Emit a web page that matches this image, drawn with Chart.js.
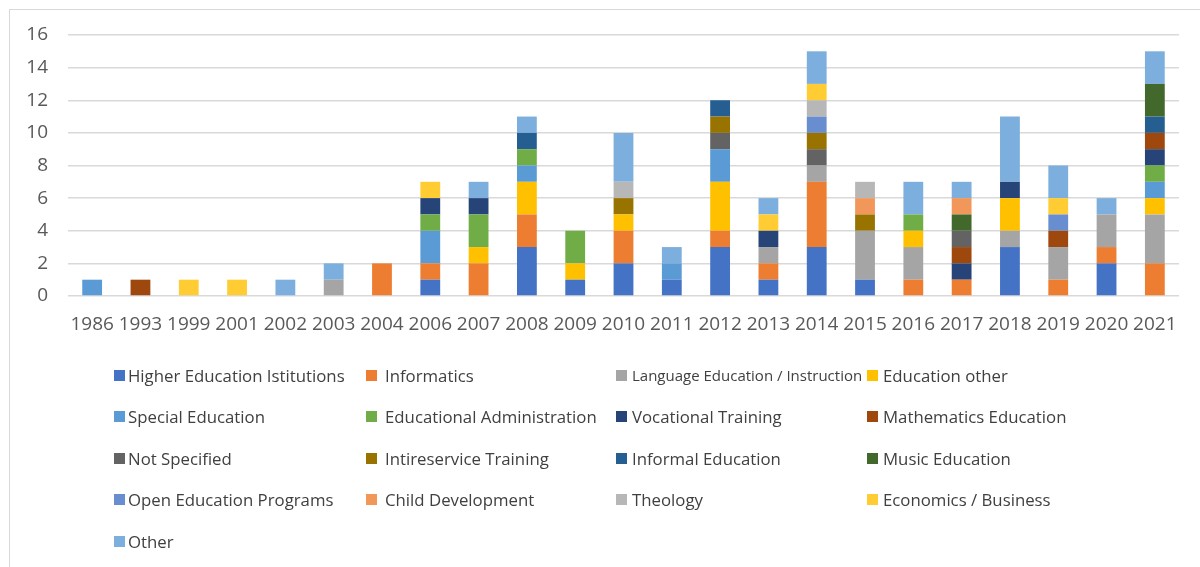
<!DOCTYPE html>
<html>
<head>
<meta charset="utf-8">
<script src="https://cdn.jsdelivr.net/npm/chart.js@4/dist/chart.umd.min.js"></script>
<style>
  html, body { margin: 0; padding: 0; background: #fff; }
  #wrap { position: relative; width: 1200px; height: 567px; overflow: hidden; font-family: "Open Sans", sans-serif; }
  #frame { position: absolute; left: 9px; top: 9px; width: 1300px; height: 700px; border-left: 1px solid #d9d9d9; border-top: 1px solid #d9d9d9; box-sizing: border-box; pointer-events: none; }
  #c { position: absolute; left: 0; top: 0; }
  #legend { position: absolute; left: 0; top: 0; width: 1200px; height: 567px; pointer-events: none; }
  .li { position: absolute; display: flex; align-items: center; font-size: 16.8px; color: #404040; white-space: nowrap; }
  .li span.sw { display: inline-block; width: 11px; height: 11px; }
</style>
</head>
<body>
<div id="wrap">
  <canvas id="c" width="1200" height="567"></canvas>
  <div id="frame"></div>
  <div id="legend"></div>
</div>
<script>
const years = ["1986","1993","1999","2001","2002","2003","2004","2006","2007","2008","2009","2010","2011","2012","2013","2014","2015","2016","2017","2018","2019","2020","2021"];
const yTicks = [0, 2, 4, 6, 8, 10, 12, 14, 16];

const higherEducation  = [0,0,0,0,0,0,0,1,0,3,1,2,1,3,1,3,1,0,0,3,0,2,0];
const informatics      = [0,0,0,0,0,0,2,1,2,2,0,2,0,1,1,4,0,1,1,0,1,1,2];
const languageEd       = [0,0,0,0,0,1,0,0,0,0,0,0,0,0,1,1,3,2,0,1,2,2,3];
const educationOther   = [0,0,0,0,0,0,0,0,1,2,1,1,0,3,0,0,0,1,0,2,0,0,1];
const specialEd        = [1,0,0,0,0,0,0,2,0,1,0,0,1,2,0,0,0,0,0,0,0,0,1];
const edAdmin          = [0,0,0,0,0,0,0,1,2,1,2,0,0,0,0,0,0,1,0,0,0,0,1];
const vocational       = [0,0,0,0,0,0,0,1,1,0,0,0,0,0,1,0,0,0,1,1,0,0,1];
const mathematicsEd    = [0,1,0,0,0,0,0,0,0,0,0,0,0,0,0,0,0,0,1,0,1,0,1];
const notSpecified     = [0,0,0,0,0,0,0,0,0,0,0,0,0,1,0,1,0,0,1,0,0,0,0];
const intireservice    = [0,0,0,0,0,0,0,0,0,0,0,1,0,1,0,1,1,0,0,0,0,0,0];
const informalEd       = [0,0,0,0,0,0,0,0,0,1,0,0,0,1,0,0,0,0,0,0,0,0,1];
const musicEd          = [0,0,0,0,0,0,0,0,0,0,0,0,0,0,0,0,0,0,1,0,0,0,2];
const openEd           = [0,0,0,0,0,0,0,0,0,0,0,0,0,0,0,1,0,0,0,0,1,0,0];
const childDev         = [0,0,0,0,0,0,0,0,0,0,0,0,0,0,0,0,1,0,1,0,0,0,0];
const theology         = [0,0,0,0,0,0,0,0,0,0,0,1,0,0,0,1,1,0,0,0,0,0,0];
const economics        = [0,0,1,1,0,0,0,1,0,0,0,0,0,0,1,1,0,0,0,0,1,0,0];
const other            = [0,0,0,0,1,1,0,0,1,1,0,3,1,0,1,2,0,2,1,4,2,1,2];

const seriesNames = ["Higher Education Istitutions","Informatics","Language Education / Instruction","Education other","Special Education","Educational Administration","Vocational Training","Mathematics Education","Not Specified","Intireservice Training","Informal Education","Music Education","Open Education Programs","Child Development","Theology","Economics / Business","Other"];
const seriesValues = [higherEducation, informatics, languageEd, educationOther, specialEd, edAdmin, vocational, mathematicsEd, notSpecified, intireservice, informalEd, musicEd, openEd, childDev, theology, economics, other];
const seriesColors = ["#4472C4","#ED7D31","#A5A5A5","#FFC000","#5B9BD5","#70AD47","#264478","#9E480E","#636363","#997300","#255E91","#43682B","#698ED0","#F1975A","#B7B7B7","#FFCD33","#7CAFDD"];

const datasets = seriesNames.map((n, i) => ({
  label: n,
  data: seriesValues[i],
  backgroundColor: seriesColors[i],
  borderWidth: 0,
  categoryPercentage: 0.41,
  barPercentage: 1.0
}));

const tickFont = { family: "'Open Sans', sans-serif", size: 19 };

new Chart(document.getElementById('c'), {
  type: 'bar',
  data: { labels: years, datasets },
  options: {
    responsive: false,
    animation: false,
    devicePixelRatio: 1,
    layout: { padding: { top: 35, right: 21, bottom: 200, left: 0 } },
    plugins: { legend: { display: false }, tooltip: { enabled: false } },
    scales: {
      x: {
        stacked: true,
        grid: { display: false, drawTicks: false },
        border: { display: false },
        ticks: { color: '#595959', font: tickFont, maxRotation: 0, minRotation: 0, autoSkip: false, padding: 17 },
        afterFit: (s) => { s.height = 71; }
      },
      y: {
        stacked: true,
        min: 0, max: 16,
        afterBuildTicks: (s) => { s.ticks = yTicks.map(v => ({ value: v })); },
        grid: { color: '#d9d9d9', lineWidth: 1.5, drawTicks: false },
        border: { display: false },
        ticks: { color: '#595959', font: tickFont, padding: 20 },
        afterFit: (s) => { s.width = 68; }
      }
    }
  }
});

// HTML legend built from series
const legend = document.getElementById('legend');
const colX = [114, 366, 616, 867];
const colGap = [3, 8, 5, 5];
const rowY = [375, 416, 458, 499, 541];
seriesNames.forEach((n, i) => {
  const col = i % 4, row = Math.floor(i / 4);
  const d = document.createElement('div');
  d.className = 'li';
  d.style.left = colX[col] + 'px';
  d.style.top = (rowY[row] - 11) + 'px';
  d.style.height = '22px';
  const sw = document.createElement('span');
  sw.className = 'sw';
  sw.style.background = seriesColors[i];
  sw.style.marginRight = colGap[col] + 'px';
  const t = document.createElement('span');
  t.textContent = n;
  if (i === 2) { t.style.fontSize = '15px'; }
  d.appendChild(sw); d.appendChild(t);
  legend.appendChild(d);
});
</script>
</body>
</html>
